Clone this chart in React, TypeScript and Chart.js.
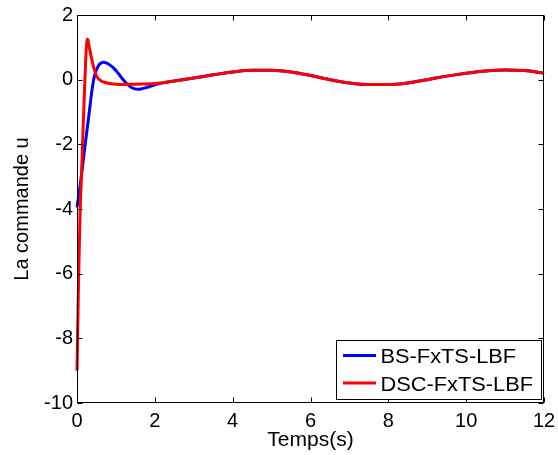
import React, { useEffect, useRef } from 'react';
import { Chart, registerables } from 'chart.js';

Chart.register(...registerables);

// ---- data ----
const seriesNames = ['BS-FxTS-LBF', 'DSC-FxTS-LBF'];
const seriesColors = ['#0000FF', '#FF0000'];
const xTitle = 'Temps(s)';
const yTitle = 'La commande u';
const xTicks = [0, 2, 4, 6, 8, 10, 12];
const yTicks = [-10, -8, -6, -4, -2, 0, 2];

const blueTime = [0, 0.1, 0.2, 0.3, 0.4, 0.45, 0.5, 0.55, 0.6, 0.67, 0.75, 0.85, 0.95, 1.05, 1.15, 1.25, 1.35, 1.45, 1.57, 1.7, 1.85, 2.0, 2.2,
  2.5, 3, 3.5, 4, 4.5, 5, 5.5, 6, 6.5, 7, 7.5, 8, 8.5, 9, 9.5, 10, 10.5, 11, 11.5, 12];
const blueU = [-3.95, -3.1, -2.1, -1.15, -0.2, 0.12, 0.3, 0.43, 0.5, 0.54, 0.52, 0.45, 0.35, 0.21, 0.05, -0.09, -0.2, -0.27, -0.3, -0.27, -0.22, -0.16, -0.1,
  -0.04, 0.05, 0.15, 0.24, 0.29, 0.29, 0.24, 0.13, 0.0, -0.1, -0.15, -0.15, -0.1, 0.0, 0.11, 0.2, 0.27, 0.3, 0.28, 0.2];

const redTime = [0, 0.04, 0.08, 0.12, 0.16, 0.2, 0.22, 0.24, 0.26, 0.28, 0.3, 0.35, 0.4, 0.45, 0.5, 0.6, 0.7, 0.8, 1.0, 1.2, 1.5, 2.0,
  2.5, 3, 3.5, 4, 4.5, 5, 5.5, 6, 6.5, 7, 7.5, 8, 8.5, 9, 9.5, 10, 10.5, 11, 11.5, 12];
const redU = [-9.0, -6.2, -4.1, -2.8, -1.4, -0.1, 0.5, 1.0, 1.26, 1.24, 1.1, 0.8, 0.52, 0.3, 0.12, -0.02, -0.08, -0.11, -0.14, -0.15, -0.14, -0.12,
  -0.04, 0.05, 0.15, 0.24, 0.29, 0.29, 0.24, 0.13, 0.0, -0.1, -0.15, -0.15, -0.1, 0.0, 0.11, 0.2, 0.27, 0.3, 0.28, 0.2];

const FONT = '"Liberation Sans", Arial, sans-serif';

const whiteBg = {
  id: 'whiteBg',
  beforeDraw(chart: any) {
    const { ctx, width, height } = chart;
    ctx.save();
    ctx.fillStyle = '#fff';
    ctx.fillRect(0, 0, width, height);
    ctx.restore();
  },
};

const boxAndTicks = {
  id: 'boxAndTicks',
  afterDatasetsDraw(chart: any) {
    const { ctx, chartArea: a, scales } = chart;
    const L = Math.round(a.left) + 0.5;
    const R = Math.round(a.right) - 0.5;
    const T = Math.round(a.top) + 0.5;
    const B = Math.round(a.bottom) - 0.5;
    const len = 5;
    ctx.save();
    ctx.strokeStyle = '#000';
    ctx.lineWidth = 1;
    ctx.beginPath();
    for (const t of scales.x.ticks) {
      const px = Math.round(scales.x.getPixelForValue(t.value)) + 0.5;
      ctx.moveTo(px, B); ctx.lineTo(px, B - len);
      ctx.moveTo(px, T); ctx.lineTo(px, T + len);
    }
    for (const t of scales.y.ticks) {
      const py = Math.round(scales.y.getPixelForValue(t.value)) + 0.5;
      ctx.moveTo(L, py); ctx.lineTo(L + len, py);
      ctx.moveTo(R, py); ctx.lineTo(R - len, py);
    }
    ctx.stroke();
    ctx.strokeRect(L, T, R - L, B - T);
    ctx.restore();
  },
};

const boxLegend = {
  id: 'boxLegend',
  afterDatasetsDraw(chart: any) {
    const { ctx, chartArea: a } = chart;
    const w = 205, h = 59;
    const x0 = Math.round(a.right - 3.5 - w) + 0.5;
    const y0 = Math.round(a.bottom - 4.5 - h) + 0.5;
    ctx.save();
    ctx.fillStyle = '#fff';
    ctx.fillRect(x0, y0, w, h);
    ctx.strokeStyle = '#000';
    ctx.lineWidth = 1;
    ctx.strokeRect(x0, y0, w, h);
    const rows = [15, 42.5];
    chart.data.datasets.forEach((ds: any, i: number) => {
      const ly = y0 + rows[i];
      ctx.strokeStyle = ds.borderColor;
      ctx.lineWidth = 3;
      ctx.beginPath();
      ctx.moveTo(x0 + 6.5, ly);
      ctx.lineTo(x0 + 39.5, ly);
      ctx.stroke();
      ctx.save();
      ctx.translate(x0 + 44, ly + 7.5);
      ctx.scale(1.09, 1);
      ctx.fillStyle = '#000';
      ctx.font = `20px ${FONT}`;
      ctx.textBaseline = 'alphabetic';
      ctx.textAlign = 'left';
      ctx.fillText(ds.label, 0, 0);
      ctx.restore();
    });
    ctx.restore();
  },
};

export default function App() {
  const ref = useRef<HTMLCanvasElement>(null);
  useEffect(() => {
    document.body.style.margin = '0';
    const series = [
      { t: blueTime, u: blueU },
      { t: redTime, u: redU },
    ];
    const chart = new Chart(ref.current!, {
      type: 'line',
      data: {
        datasets: series.map((s, i) => ({
          label: seriesNames[i],
          data: s.t.map((t, k) => ({ x: t, y: s.u[k] })),
          borderColor: seriesColors[i],
          backgroundColor: seriesColors[i],
          borderWidth: 3,
          pointRadius: 0,
          fill: false,
          order: i === 0 ? 1 : 0,
          cubicInterpolationMode: 'monotone' as const,
          clip: false as any,
        })),
      },
      options: {
        animation: false,
        responsive: false,
        devicePixelRatio: 1,
        layout: { padding: { top: 15, right: 14, left: 0, bottom: 0 } },
        plugins: { legend: { display: false }, tooltip: { enabled: false } },
        scales: {
          x: {
            type: 'linear',
            min: 0,
            max: 12,
            afterBuildTicks: (s: any) => { s.ticks = xTicks.map((v) => ({ value: v })); },
            afterFit: (s: any) => { s.height = 52; s.paddingLeft = 0; s.paddingRight = 0; },
            grid: { display: false, drawTicks: false },
            border: { display: false },
            ticks: { font: { size: 20, family: FONT }, color: '#000', padding: 6, maxRotation: 0, autoSkip: false },
            title: { display: true, text: xTitle, font: { size: 21, family: FONT }, color: '#000', padding: { top: 0, bottom: 2 } },
          },
          y: {
            type: 'linear',
            min: -10,
            max: 2,
            afterBuildTicks: (s: any) => { s.ticks = yTicks.map((v) => ({ value: v })); },
            afterFit: (s: any) => { s.width = 77; s.paddingTop = 0; s.paddingBottom = 0; },
            grid: { display: false, drawTicks: false },
            border: { display: false },
            ticks: { font: { size: 20, family: FONT }, color: '#000', padding: 4, autoSkip: false },
            title: { display: true, text: yTitle, font: { size: 20, family: FONT }, color: '#000', padding: { top: 10, bottom: 0 } },
          },
        },
      },
      plugins: [whiteBg, boxAndTicks, boxLegend],
    } as any);
    return () => chart.destroy();
  }, []);
  return <canvas ref={ref} width={558} height={455} style={{ display: 'block' }} />;
}
